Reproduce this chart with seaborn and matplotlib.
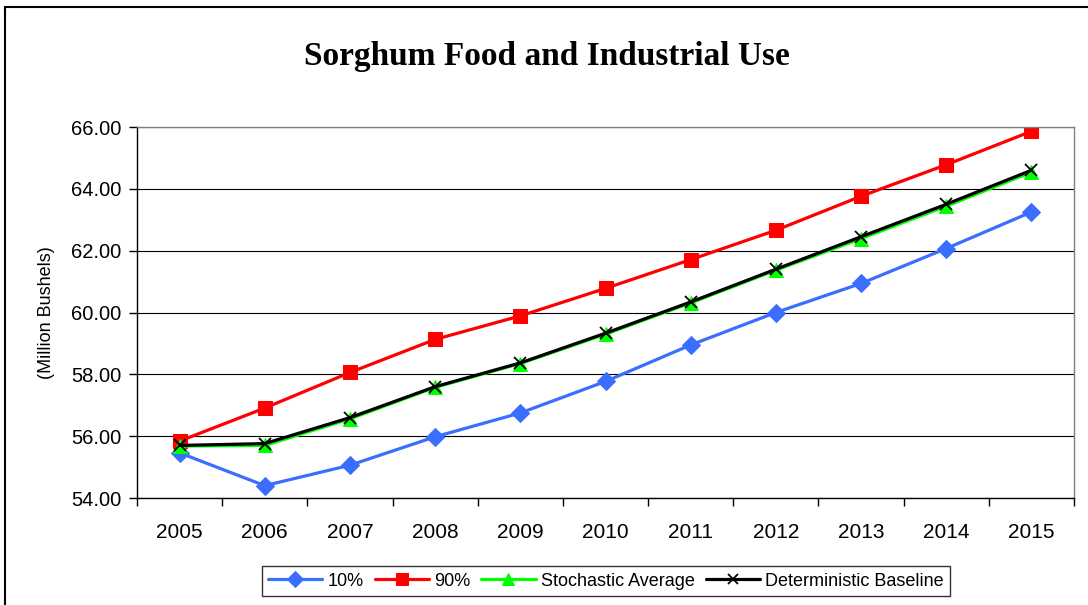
import pandas as pd
import matplotlib.pyplot as plt
import seaborn as sns
from matplotlib.patches import Rectangle
from matplotlib.ticker import FormatStrFormatter, FixedLocator

years = [2005, 2006, 2007, 2008, 2009, 2010, 2011, 2012, 2013, 2014, 2015]
p10 = [55.46, 54.40, 55.06, 55.98, 56.75, 57.77, 58.95, 60.00, 60.94, 62.07, 63.25]
p90 = [55.84, 56.91, 58.06, 59.13, 59.89, 60.78, 61.71, 62.66, 63.76, 64.78, 65.86]
stoch_avg = [55.68, 55.70, 56.56, 57.58, 58.35, 59.30, 60.31, 61.37, 62.39, 63.44, 64.54]
det_base = [55.70, 55.76, 56.60, 57.60, 58.37, 59.33, 60.34, 61.40, 62.45, 63.50, 64.60]

series = [
    ('10%', p10, '#3A6EFF', 'D', 9),
    ('90%', p90, '#FF0000', 's', 9.5),
    ('Stochastic Average', stoch_avg, '#00FF00', '^', 9.5),
    ('Deterministic Baseline', det_base, '#000000', 'x', 9),
]

sns.set_style('white')
plt.rcParams['font.family'] = ['Liberation Sans', 'DejaVu Sans']
plt.rcParams['text.color'] = 'black'
plt.rcParams['axes.labelcolor'] = 'black'
plt.rcParams['xtick.color'] = 'black'
plt.rcParams['ytick.color'] = 'black'

fig = plt.figure(figsize=(10.88, 6.05), dpi=100)
ax = fig.add_axes([137 / 1088, 1 - 498 / 605, (1074 - 137) / 1088, (498 - 127) / 605])

for name, vals, color, mk, ms in series:
    df = pd.DataFrame({'year': years, 'value': vals})
    kw = dict(markeredgecolor=color)
    if mk == 'x':
        kw = dict(markeredgecolor='black', markeredgewidth=1.3)
    sns.lineplot(data=df, x='year', y='value', ax=ax, color=color, linewidth=2.3,
                 marker=mk, markersize=ms, label=name, **kw)

ax.set_xlim(2004.5, 2015.5)
ax.set_ylim(54, 66)
ax.set_yticks([54, 56, 58, 60, 62, 64, 66])
ax.yaxis.set_major_formatter(FormatStrFormatter('%.2f'))
ax.set_xticks(years)
ax.set_xticklabels([str(y) for y in years])
ax.xaxis.set_minor_locator(FixedLocator([y - 0.5 for y in years] + [2015.5]))
ax.tick_params(axis='x', which='major', length=0, labelsize=15, pad=18)
ax.tick_params(axis='x', which='minor', length=6, width=1, color='black', direction='out', bottom=True)
ax.tick_params(axis='y', length=6, width=1, color='black', direction='out', left=True,
               labelsize=14.5, pad=5)
ax.grid(axis='y', color='black', linewidth=0.8)
ax.set_axisbelow(True)

for side in ['left', 'bottom']:
    ax.spines[side].set_color('black')
    ax.spines[side].set_linewidth(1)
for side in ['top', 'right']:
    ax.spines[side].set_color('#808080')
    ax.spines[side].set_linewidth(1)

ax.set_xlabel('')
ax.set_ylabel('(Million Bushels)', fontsize=13, labelpad=12)

fig.text(0.503, 0.907, 'Sorghum Food and Industrial Use', ha='center', va='center',
         fontsize=24, fontweight='bold', family='Liberation Serif', color='black')

leg = ax.legend(loc='center', bbox_to_anchor=(606 / 1088, 1 - 581 / 605),
                bbox_transform=fig.transFigure, ncol=4, fontsize=13, frameon=True,
                fancybox=False, edgecolor='black', handlelength=3, handletextpad=0.3,
                columnspacing=0.6, borderpad=0.35, markerscale=0.85)
leg.get_frame().set_linewidth(1)

fig.patches.append(Rectangle((5 / 1088, -0.05), 1.1, 1.05 - 7 / 605,
                             transform=fig.transFigure, fill=False, edgecolor='black',
                             linewidth=1.5, clip_on=False))

fig.savefig('out.png', dpi=100)
